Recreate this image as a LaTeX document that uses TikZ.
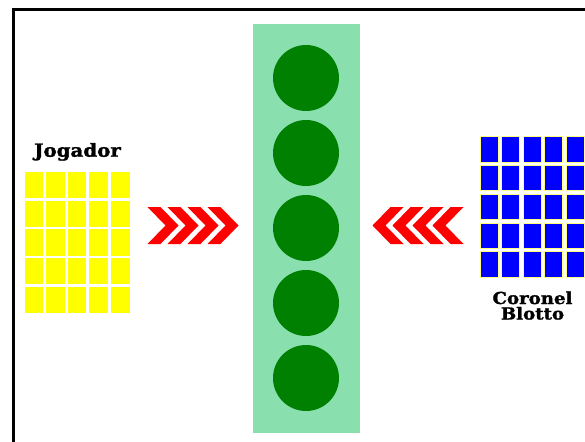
\documentclass[tikz,border=0pt]{standalone}
\usepackage{fontspec}
\newfontfamily\labelfont{DejaVu Serif}[BoldFont={DejaVu Serif Bold}, BoldFeatures={FakeBold=1.5}]
\definecolor{colbg}{HTML}{8ADFAE}
\definecolor{coldark}{HTML}{008000}
\definecolor{colred}{HTML}{FF0000}
\definecolor{colyel}{HTML}{FFFF00}
\definecolor{colblue}{HTML}{0000FF}
\tikzset{
  frameline/.style={line width=3pt, draw=black},
  yelcell/.style={fill=colyel, draw=none},
  bluecell/.style={fill=colblue, draw=colyel!50!white, line width=0.4pt},
  unitcircle/.style={circle, fill=coldark, minimum size=66pt, inner sep=0pt},
  chev/.style={fill=colred, draw=none},
  lbl/.style={font=\labelfont\bfseries\fontsize{18}{15}\selectfont, inner sep=0pt, anchor=base},
  lblsmall/.style={font=\labelfont\bfseries\fontsize{16.5}{15}\selectfont, inner sep=0pt, anchor=base}
}
\begin{document}
\begin{tikzpicture}[x=1pt,y=-1pt]
\useasboundingbox (0,0) rectangle (585,441);
% frame
\draw[frameline] (13.5,445) -- (13.5,9.5) -- (590,9.5);
% battlefield column
\node[fill=colbg, minimum width=107pt, minimum height=409pt, inner sep=0pt, anchor=north west] (col) at (253,24) {};
\foreach \i in {0,...,4}{
  \node[unitcircle] (c\i) at (306,{78+75*\i}) {};
}
% yellow grid (Jogador)
\foreach \r in {0,...,4}{
  \foreach \c in {0,...,4}{
    \fill[yelcell] ({24.5+21.6*\c},{171.7+28.8*\r}) rectangle ++(18.6,26.2);
  }
}
\node[lbl] (jog) at (77.5,156.7) {\scalebox{1.1}[1]{Jogador}};
% blue grid (Coronel Blotto)
\foreach \r in {0,...,4}{
  \foreach \c in {0,...,4}{
    \filldraw[bluecell] ({480+21.5*\c},{136.3+28.8*\r}) rectangle ++(18,25.5);
  }
}
\node[lblsmall] (cb1) at (532.5,304) {\scalebox{1.1}[1]{Coronel}};
\node[lblsmall] (cb2) at (532.5,319.5) {\scalebox{1.1}[1]{Blotto}};
% chevrons right-pointing
\foreach \k in {0,...,3}{
  \fill[chev] ({147.5+20*\k},207) -- ++(13,0) -- ++(18,18.5) -- ++(-18,18.5) -- ++(-13,0) -- ++(18,-18.5) -- cycle;
}
% chevrons left-pointing
\foreach \k in {0,...,3}{
  \fill[chev] ({463.5-20*\k},207) -- ++(-13,0) -- ++(-18,18.5) -- ++(18,18.5) -- ++(13,0) -- ++(-18,-18.5) -- cycle;
}
\end{tikzpicture}
\end{document}
